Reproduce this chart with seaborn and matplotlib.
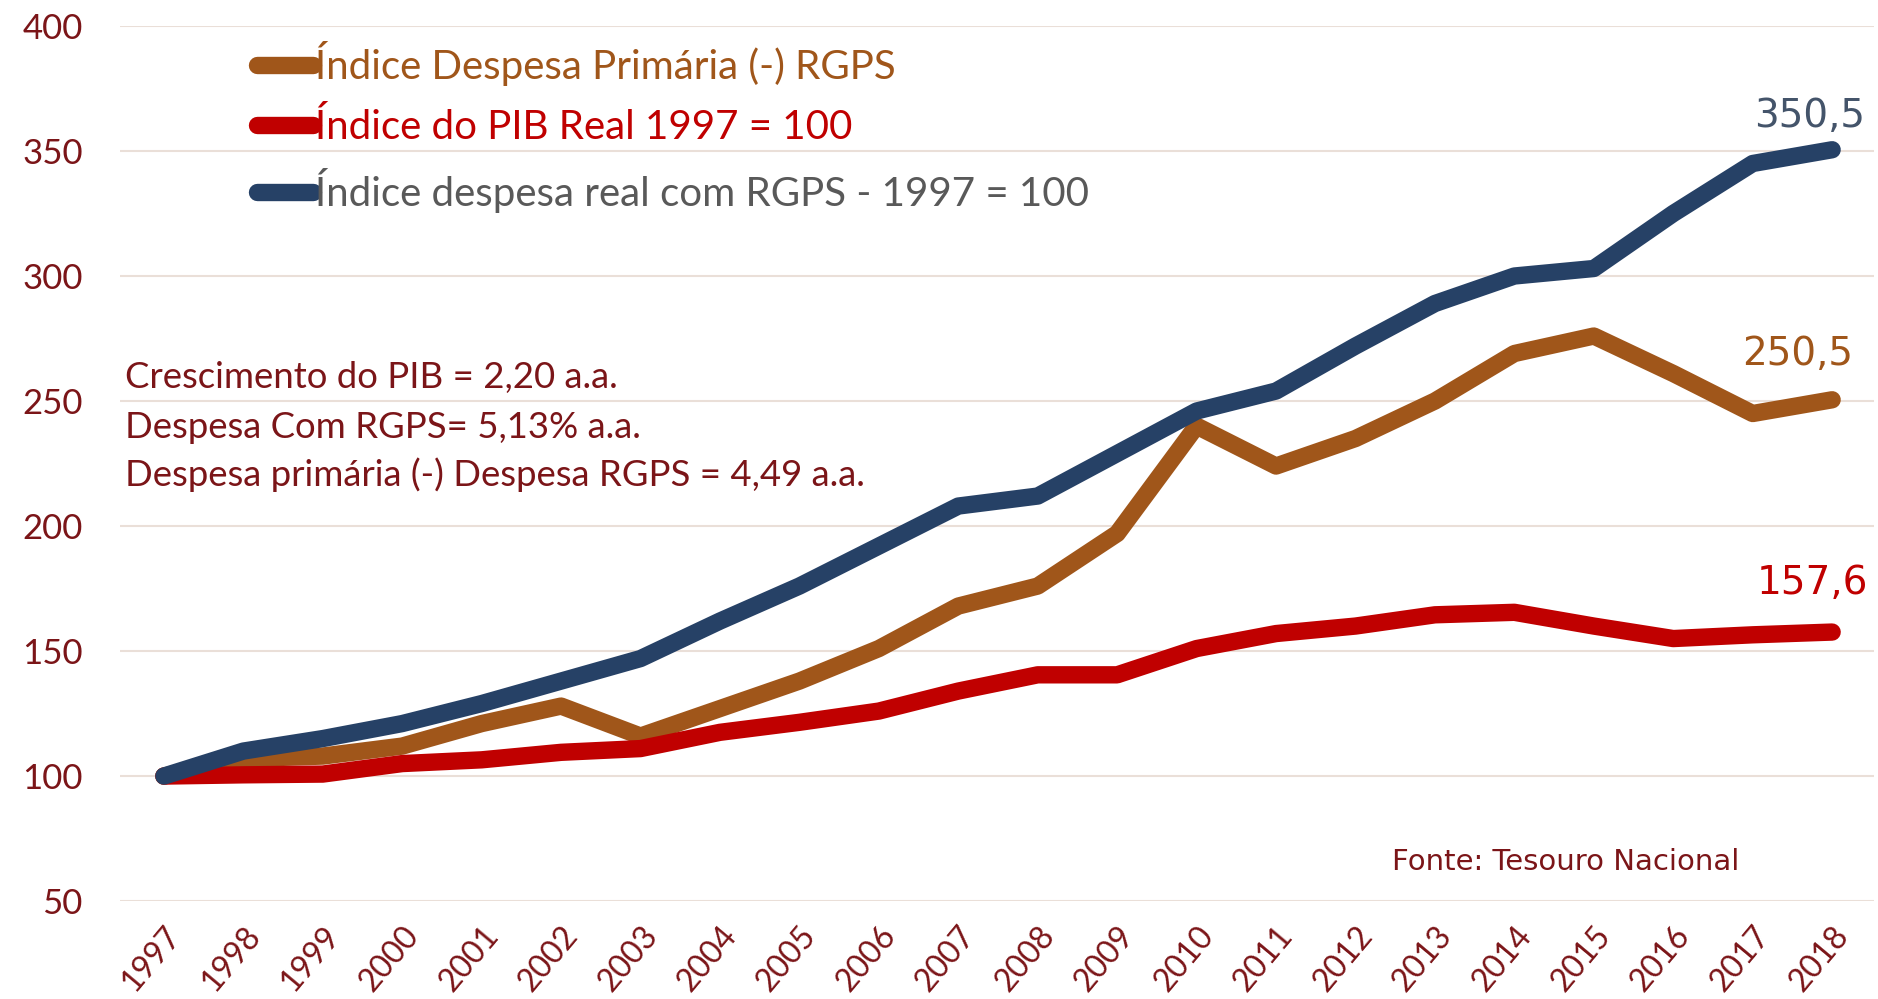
import pandas as pd
import matplotlib.pyplot as plt
import seaborn as sns

years = [str(y) for y in range(1997, 2019)]
despesa_primaria = [100, 107, 108, 112, 121, 128, 116, 127, 138, 151, 168, 176,
                    197, 240, 224, 235, 250, 269, 276, 261, 245, 250.5]
pib_real = [100, 100.5, 100.8, 105, 106.5, 109.5, 111, 117.5, 121.5, 126, 134, 140.5,
            140.5, 151, 157, 160, 164.5, 165.5, 160, 155, 156.5, 157.6]
despesa_rgps = [100, 110, 115, 121, 129, 138, 147, 162, 176, 192, 208, 212,
                229, 246, 254, 272, 289, 300, 303, 325, 345, 350.5]

series_names = ["Índice Despesa Primária (-) RGPS",
                "Índice do PIB Real 1997 = 100",
                "Índice despesa real com RGPS - 1997 = 100"]
line_colors = ["#A0561A", "#C00000", "#264166"]
legend_text_colors = ["#A0561A", "#C00000", "#595959"]
end_labels = ["250,5", "157,6", "350,5"]
end_label_colors = ["#A0561A", "#C00000", "#44546A"]
end_offsets = [(-25, 33), (-14, 35), (-16, 24)]
notes = ["Crescimento do PIB = 2,20 a.a.",
         "Despesa Com RGPS= 5,13% a.a.",
         "Despesa primária (-) Despesa RGPS = 4,49 a.a."]
maroon = "#7B1518"

df = pd.DataFrame({
    "ano": years * 3,
    "indice": despesa_primaria + pib_real + despesa_rgps,
    "serie": [series_names[0]] * 22 + [series_names[1]] * 22 + [series_names[2]] * 22,
})

sns.set_style("white")
plt.rcParams["font.family"] = ["Lato", "DejaVu Sans"]

fig = plt.figure(figsize=(18.78, 9.99), dpi=100)
ax = fig.add_axes([0.064, 0.098, 0.934, 0.876])

sns.lineplot(data=df, x="ano", y="indice", hue="serie", hue_order=series_names,
             palette=line_colors, linewidth=12.5, ax=ax, sort=False,
             solid_capstyle="round", solid_joinstyle="round")

ax.set_xlim(-0.55, 21.53)
ax.set_ylim(50, 400)
ax.set_yticks(range(50, 401, 50))
ax.grid(axis="y", color="#EADFD8", linewidth=1.5)
ax.set_axisbelow(True)
for s in ax.spines.values():
    s.set_visible(False)
ax.tick_params(length=0)
ax.set_xlabel("")
ax.set_ylabel("")
ax.tick_params(axis="y", labelsize=25, labelcolor=maroon, pad=27)
ax.tick_params(axis="x", labelsize=23, labelcolor=maroon, pad=14)
for lbl in ax.get_xticklabels():
    lbl.set_rotation(50)
    lbl.set_ha("right")
    lbl.set_rotation_mode("anchor")

leg = ax.legend(loc="upper left", bbox_to_anchor=(0.078, 0.983), frameon=False,
                fontsize=29, handlelength=1.4, handletextpad=0.05,
                labelspacing=0.55, borderpad=0, borderaxespad=0)
for txt, c in zip(leg.get_texts(), legend_text_colors):
    txt.set_color(c)
for h in leg.legend_handles:
    h.set_linewidth(12.5)
    h.set_solid_capstyle("round")

note_y = [0.598, 0.541, 0.487]
for txt, y in zip(notes, note_y):
    ax.text(0.003, y, txt, transform=ax.transAxes, fontsize=26.3, color=maroon,
            va="center", ha="left")

last = len(years) - 1
for vals, lab, c, off in zip([despesa_primaria, pib_real, despesa_rgps], end_labels,
                             end_label_colors, end_offsets):
    ax.annotate(lab, (last, vals[-1]), xytext=off, textcoords="offset points",
                ha="center", va="center", fontsize=28, color=c, family="DejaVu Sans")

ax.text(0.824, 0.045, "Fonte: Tesouro Nacional", transform=ax.transAxes,
        fontsize=21, color=maroon, family="DejaVu Sans", ha="center", va="center")

fig.savefig("out.png", dpi=100, facecolor="white")
